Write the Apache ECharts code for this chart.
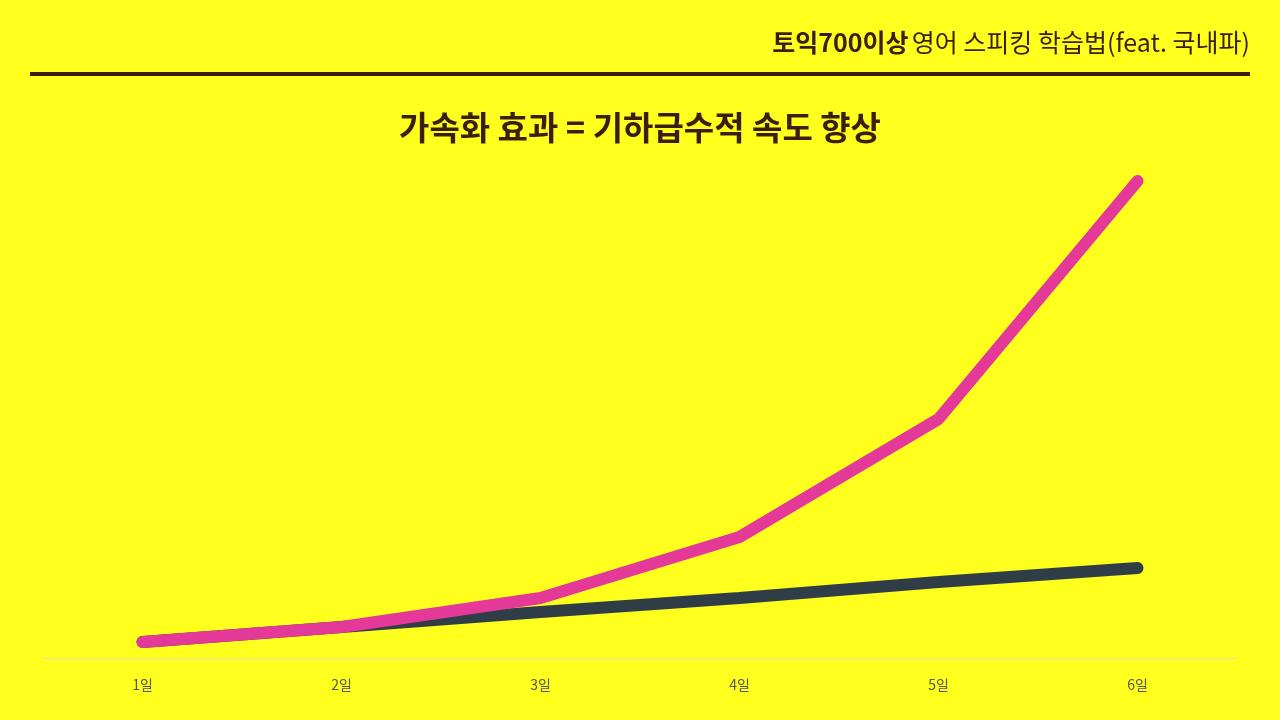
<!DOCTYPE html>
<html><head><meta charset="utf-8">
<script src="https://cdn.jsdelivr.net/npm/echarts@6/dist/echarts.min.js"></script>
<style>html,body{margin:0;padding:0;background:#ffff1e}#c{width:1280px;height:720px}</style>
</head><body><div id="c"></div>
<script>
const categories = ['1일','2일','3일','4일','5일','6일'];
const accelerated = [16, 31, 60, 121, 239, 477];
const linear = [16, 31, 46, 60, 76, 90];
const chart = echarts.init(document.getElementById('c'));
const F = '"Noto Sans CJK KR","Noto Sans",sans-serif';
chart.setOption({
  backgroundColor: '#ffff1e',
  title: [{
    text: '가속화 효과 = 기하급수적 속도 향상', left: 'center', top: 106,
    textStyle: {fontFamily: F, fontSize: 33, fontWeight: 'bold', color: '#3a1f0f'}
  }],
  graphic: [
    {type: 'text', right: 30, top: 30, style: {
      rich: {b: {fontFamily: F, fontSize: 25, fontWeight: 'bold', fill: '#3a1f0f'},
             n: {fontFamily: F, fontSize: 25, fill: '#3a1f0f'}},
      text: '{b|토익700이상} {n|영어 스피킹 학습법(feat. 국내파)}'}},
    {type: 'rect', shape: {x: 30, y: 72, width: 1220, height: 4}, style: {fill: '#3a1f0f'}}
  ],
  grid: {left: 43, right: 43, top: 158, bottom: 62},
  xAxis: {type: 'category', data: categories, boundaryGap: true,
    axisLine: {lineStyle: {color: '#e0e0c0'}}, axisTick: {lineStyle: {color: '#e0e0c0'}},
    axisLabel: {color: '#555', fontSize: 14, margin: 20, fontFamily: F}},
  yAxis: {type: 'value', min: 0, max: 500, show: false, splitLine: {show: false}},
  series: [
    {type: 'line', data: linear, symbol: 'none', lineStyle: {width: 12, color: '#2f3e46', cap: 'round'}},
    {type: 'line', data: accelerated, symbol: 'none', lineStyle: {width: 12, color: '#e5399a', cap: 'round'}}
  ]
});
</script></body></html>
